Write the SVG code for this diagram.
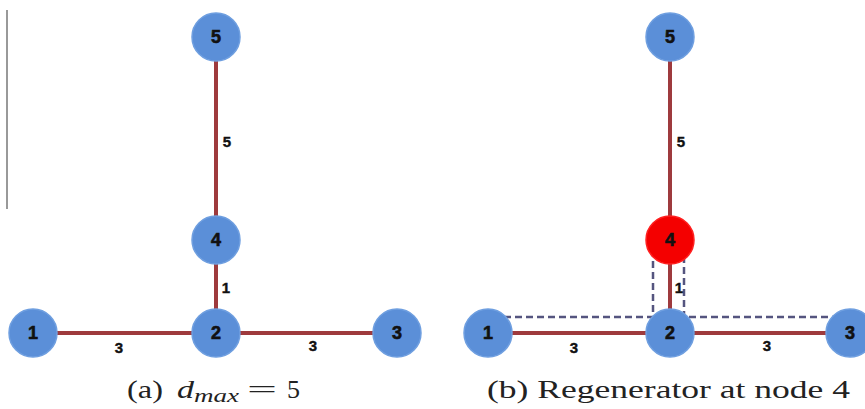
<svg xmlns="http://www.w3.org/2000/svg" width="865" height="409" viewBox="0 0 865 409">
<style>
.edge{stroke:#9e3a3d;stroke-width:4;fill:none}
.dash{stroke:#55557f;stroke-width:2.5;stroke-dasharray:7,4;fill:none}
.node{fill:#5b8fd8;stroke:#6f9fe0;stroke-width:1.5}
.red{fill:#f40000;stroke:#ff2020;stroke-width:1.5}
.nl{font-family:"Liberation Sans",Arial,sans-serif;font-weight:bold;font-size:18px;fill:#111;text-anchor:middle;stroke:#111;stroke-width:0.6}
.el{font-family:"Liberation Sans",Arial,sans-serif;font-weight:bold;font-size:15px;fill:#111;text-anchor:middle;stroke:#111;stroke-width:0.4}
.cap{font-family:"Liberation Serif","Times New Roman",serif;font-size:26px;fill:#222}
</style>
<rect width="865" height="409" fill="#fff"/>
<line x1="7" y1="10" x2="7" y2="209" stroke="#777" stroke-width="1.5"/>
<g id="connectors">
<line class="edge" x1="216" y1="37" x2="216" y2="240"/>
<line class="edge" x1="216" y1="240" x2="216" y2="333"/>
<line class="edge" x1="33" y1="333" x2="397" y2="333"/>
<line class="edge" x1="670" y1="37" x2="670" y2="240"/>
<line class="edge" x1="670" y1="240" x2="670" y2="333"/>
<line class="edge" x1="488" y1="333" x2="848" y2="333"/>
<path class="dash" d="M504,317 H653 V256"/>
<path class="dash" d="M684,256 V317 H836"/>
</g>
<g class="el">
<text x="227" y="147">5</text>
<text x="226" y="293">1</text>
<text x="119" y="353">3</text>
<text x="313" y="351">3</text>
<text x="681" y="147">5</text>
<text x="679" y="293">1</text>
<text x="574" y="353">3</text>
<text x="767" y="351">3</text>
</g>
<g id="a5"><circle class="node" cx="216" cy="37" r="24"/><text class="nl" x="216" y="43">5</text></g>
<g id="a4"><circle class="node" cx="216" cy="240" r="24"/><text class="nl" x="216" y="246">4</text></g>
<g id="a2"><circle class="node" cx="216" cy="333" r="24"/><text class="nl" x="216" y="339">2</text></g>
<g id="a1"><circle class="node" cx="33" cy="333" r="24"/><text class="nl" x="33" y="339">1</text></g>
<g id="a3"><circle class="node" cx="397" cy="333" r="24"/><text class="nl" x="397" y="339">3</text></g>
<g id="b5"><circle class="node" cx="670" cy="37" r="24"/><text class="nl" x="670" y="43">5</text></g>
<g id="b4"><circle class="red" cx="670" cy="240" r="24"/><text class="nl" x="670" y="246">4</text></g>
<g id="b2"><circle class="node" cx="670" cy="333" r="24"/><text class="nl" x="670" y="339">2</text></g>
<g id="b1"><circle class="node" cx="488" cy="333" r="24"/><text class="nl" x="488" y="339">1</text></g>
<g id="b3"><circle class="node" cx="850" cy="333" r="24"/><text class="nl" x="850" y="339">3</text></g>
<text class="cap" y="398"><tspan x="127" textLength="36" lengthAdjust="spacingAndGlyphs">(a)</tspan><tspan x="177" font-style="italic" textLength="17" lengthAdjust="spacingAndGlyphs">d</tspan><tspan x="194" font-style="italic" font-size="19" dy="4" textLength="45" lengthAdjust="spacingAndGlyphs">max</tspan><tspan x="247" dy="-4" textLength="30" lengthAdjust="spacingAndGlyphs">=</tspan><tspan x="287">5</tspan></text>
<text class="cap" x="487" y="398" textLength="363" lengthAdjust="spacingAndGlyphs">(b) Regenerator at node 4</text>
</svg>
